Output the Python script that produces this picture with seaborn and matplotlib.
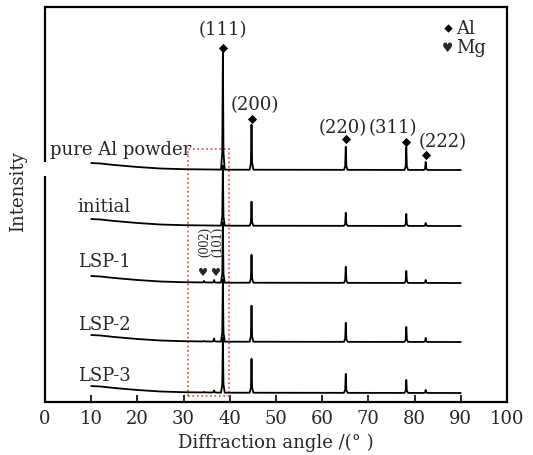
import numpy as np
import pandas as pd
import matplotlib
matplotlib.use("Agg")
import matplotlib.pyplot as plt
import matplotlib.patches as mpatches
import seaborn as sns

# ---- data -------------------------------------------------------------
samples = ["pure Al powder", "initial", "LSP-1", "LSP-2", "LSP-3"]
offsets = [232, 176, 119, 60, 9]           # vertical stacking of the patterns

al_peaks = [38.5, 44.7, 65.1, 78.2, 82.4]  # 2θ of Al reflections
al_hkl = ["(111)", "(200)", "(220)", "(311)", "(222)"]
al_heights = {
    "pure Al powder": [119, 45, 23, 23, 8],
    "initial":        [60, 24, 13, 12, 3],
    "LSP-1":          [60, 28, 16, 12, 3],
    "LSP-2":          [62, 36, 19, 15, 4],
    "LSP-3":          [55, 34, 19, 13, 3],
}
mg_peaks = [34.4, 36.6]                    # Mg (002), (101)
mg_hkl = ["(002)", "(101)"]
mg_heights = {
    "pure Al powder": [0, 0],
    "initial":        [0, 0],
    "LSP-1":          [1.5, 2.5],
    "LSP-2":          [0.5, 3],
    "LSP-3":          [0.5, 2],
}

# low-angle background (rise above the flat baseline)
bg_x = [10, 12, 15, 20, 25, 30, 40, 90]
bg_y = [7, 6.5, 5, 3, 1.5, 0.8, 0.3, 0]

xticks = list(range(0, 101, 10))


def pattern(offset, heights, mgh):
    pts = []
    for x, y in zip(bg_x, bg_y):
        pts.append((x, offset + y))
    peaks = list(zip(al_peaks, heights)) + list(zip(mg_peaks, mgh))
    for p, h in peaks:
        if h <= 0:
            continue
        b = offset + float(np.interp(p, bg_x, bg_y))
        for dx, f in [(-0.4, 0), (-0.13, 0.15), (0, 1), (0.13, 0.15), (0.4, 0)]:
            pts.append((p + dx, b + f * h))
    pts.sort(key=lambda t: t[0])
    return pd.DataFrame(pts, columns=["angle", "intensity"])


# ---- figure -----------------------------------------------------------
sns.set_theme(style="white")
plt.rcParams["font.family"] = ["DejaVu Serif"]
fig = plt.figure(figsize=(5.33, 4.56), dpi=100)
ax = fig.add_axes([45 / 533, 1 - 403 / 456, 462 / 533, 395 / 456])

for name, off in zip(samples, offsets):
    df = pattern(off, al_heights[name], mg_heights[name])
    sns.lineplot(data=df, x="angle", y="intensity", ax=ax, color="black",
                 lw=1.3, sort=False, estimator=None)

ax.set_xlim(0, 100)
ax.set_ylim(0, 395)
ax.set_xticks(xticks)
ax.set_xticklabels([str(t) for t in xticks])
ax.set_yticks([])
ax.tick_params(axis="x", direction="in", length=5, width=1.2, labelsize=13,
               pad=5, color="black", bottom=True)
for s in ["top", "right", "bottom"]:
    ax.spines[s].set_color("black")
    ax.spines[s].set_linewidth(1.6)
ax.spines["left"].set_visible(False)
# broken left axis
ax.plot([0, 0], [0, 226], color="black", lw=1.6, clip_on=False,
        solid_capstyle="butt")
ax.plot([0, 0], [240, 395], color="black", lw=1.6, clip_on=False,
        solid_capstyle="butt")

ax.set_xlabel("Diffraction angle /(° )", fontsize=13, labelpad=4)
ax.set_ylabel("Intensity", fontsize=13)
ax.yaxis.set_label_coords(-0.038, 0.535)

# sample names
name_pos = [(1.1, 253), (7.1, 196), (7.1, 141), (7.1, 78), (7.1, 27)]
for name, (x, y) in zip(samples, name_pos):
    ax.text(x, y, name, fontsize=13, ha="left", va="center")

# Al peak markers and indices on the pure powder pattern
diamond_y = [354, 283, 263, 260, 247]
label_pos = [(38.5, 373), (45.5, 298), (64.5, 275), (75.3, 275), (86.1, 261)]
sns.scatterplot(x=al_peaks, y=diamond_y, ax=ax, marker="D", s=22,
                color="black", edgecolor="black", linewidth=0)
for lab, (x, y) in zip(al_hkl, label_pos):
    ax.text(x, y, lab, fontsize=13, ha="center", va="center")

# Mg indices on LSP-1
for lab, tx, hx in zip(mg_hkl, [34.6, 37.4], [34.2, 37.1]):
    ax.text(tx, 161, lab, fontsize=10, rotation=90, ha="center",
            va="center", family="Liberation Serif")
    ax.text(hx, 130, "♥", fontsize=8, ha="center", va="center",
            family="DejaVu Sans")

# key
sns.scatterplot(x=[87.2], y=[374], ax=ax, marker="D", s=18, color="black",
                linewidth=0)
ax.text(89.0, 374, "Al", fontsize=13, ha="left", va="center")
ax.text(87.2, 355, "♥", fontsize=9, ha="center", va="center",
        family="DejaVu Sans")
ax.text(89.0, 355, "Mg", fontsize=13, ha="left", va="center")

# highlighted window around the Al(111) / Mg region
ax.add_patch(mpatches.Rectangle((31, 6), 8.8, 247, fill=False,
                                edgecolor="#e8403a", lw=1.2, linestyle=":"))

fig.savefig("out.png", dpi=100)
